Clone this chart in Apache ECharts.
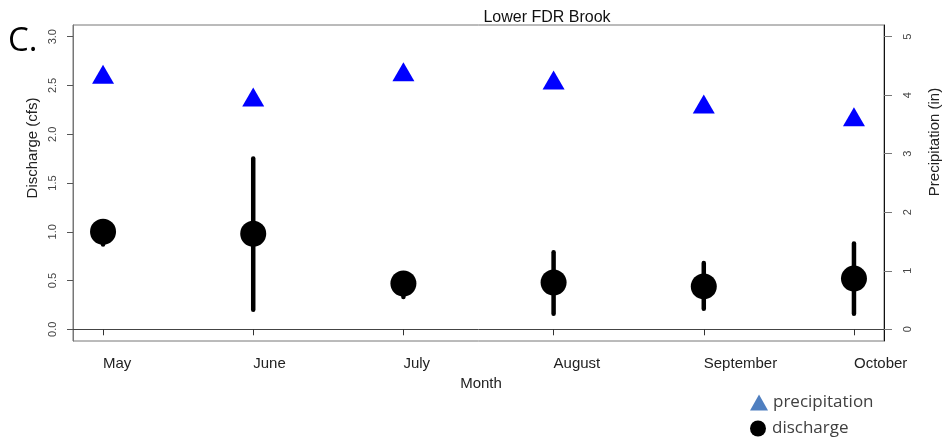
<!DOCTYPE html>
<html>
<head>
<meta charset="utf-8">
<script src="https://cdn.jsdelivr.net/npm/echarts@6/dist/echarts.min.js"></script>
<style>
html,body{margin:0;padding:0;background:#fff;}
#chart{width:946px;height:442px;}
</style>
</head>
<body>
<div id="chart"></div>
<script>
const months = ['May', 'June', 'July', 'August', 'September', 'October'];
const precipitation = [4.36, 3.97, 4.40, 4.26, 3.85, 3.63];
const discharge = [1.00, 0.98, 0.47, 0.48, 0.44, 0.52];
const dischargeLow = [0.87, 0.20, 0.33, 0.16, 0.21, 0.16];
const dischargeHigh = [1.03, 1.75, 0.50, 0.79, 0.68, 0.88];
const leftTicks = [0, 0.5, 1.0, 1.5, 2.0, 2.5, 3.0];
const rightTicks = [0, 1, 2, 3, 4, 5];
const monthTicks = months.map((m, i) => i + 1);

const chart = echarts.init(document.getElementById('chart'), null, {renderer: 'canvas'});
const AX = 'Liberation Sans, Arial, sans-serif';
const LEG = 'Open Sans, Noto Sans, sans-serif';

const legendBase = {
  orient: 'vertical', left: 745, itemWidth: 18, itemHeight: 16, itemGap: 9, selectedMode: false,
  textStyle: {fontSize: 17, fontFamily: LEG, color: '#404040'}
};

const option = {
  animation: false,
  backgroundColor: '#fff',
  grid: {left: 73, right: 62, top: 25, bottom: 101, show: true, borderColor: '#777', borderWidth: 1, containLabel: false},
  legend: [
    Object.assign({}, legendBase, {top: 389, data: [{name: 'precipitation', icon: 'triangle', itemStyle: {color: '#4f7fc0', opacity: 1}}]}),
    Object.assign({}, legendBase, {top: 415, data: [{name: 'discharge', icon: 'circle', itemStyle: {color: '#000', opacity: 1}}]})
  ],
  xAxis: {
    type: 'value', min: 0.8, max: 6.2,
    splitLine: {show: false},
    axisLine: {show: true, lineStyle: {color: '#444', width: 1}},
    axisTick: {show: true, length: 6, lineStyle: {color: '#333'}, customValues: monthTicks},
    axisLabel: {customValues: monthTicks, formatter: v => months[Math.round(v) - 1], align: 'left', margin: 15,
      fontSize: 15, fontFamily: AX, color: '#222'}
  },
  yAxis: [
    {
      type: 'value', position: 'left', min: -0.12, max: 3.12,
      splitLine: {show: false},
      axisLine: {show: true, lineStyle: {color: '#777'}},
      axisTick: {show: true, length: 6, lineStyle: {color: '#555'}, customValues: leftTicks},
      axisLabel: {customValues: leftTicks, formatter: v => v.toFixed(1), rotate: 90, margin: 15,
        fontSize: 11, fontFamily: AX, color: '#444'}
    },
    {
      type: 'value', position: 'right', min: -0.2, max: 5.2,
      splitLine: {show: false},
      axisLine: {show: true, lineStyle: {color: '#111'}},
      axisTick: {show: true, length: 8, lineStyle: {color: '#777'}, customValues: rightTicks},
      axisLabel: {customValues: rightTicks, formatter: v => String(v), rotate: 90, margin: 18,
        fontSize: 11, fontFamily: AX, color: '#444'}
    }
  ],
  graphic: [
    {type: 'text', left: 8, top: 25, style: {text: 'C.', fontSize: 33, fontFamily: LEG, fill: '#000'}},
    {type: 'text', x: 547, y: 18, style: {text: 'Lower FDR Brook', fontSize: 16, fontFamily: AX, fill: '#111', align: 'center', verticalAlign: 'middle'}},
    {type: 'text', x: 481, y: 384, style: {text: 'Month', fontSize: 15, fontFamily: AX, fill: '#222', align: 'center', verticalAlign: 'middle'}},
    {type: 'text', x: 33, y: 148, rotation: Math.PI / 2, style: {text: 'Discharge (cfs)', fontSize: 15, fontFamily: AX, fill: '#222', align: 'center', verticalAlign: 'middle'}},
    {type: 'text', x: 935, y: 142, rotation: Math.PI / 2, style: {text: 'Precipitation (in)', fontSize: 15, fontFamily: AX, fill: '#222', align: 'center', verticalAlign: 'middle'}}
  ],
  series: [
    {
      name: 'range', type: 'custom', xAxisIndex: 0, yAxisIndex: 0, z: 2,
      data: months.map((m, i) => [i + 1, dischargeLow[i], dischargeHigh[i]]),
      encode: {x: 0, y: [1, 2]},
      renderItem: (params, api) => {
        const p1 = api.coord([api.value(0), api.value(1)]);
        const p2 = api.coord([api.value(0), api.value(2)]);
        return {type: 'line', shape: {x1: p1[0], y1: p1[1], x2: p2[0], y2: p2[1]},
          style: {stroke: '#000', lineWidth: 4.5, lineCap: 'round'}};
      }
    },
    {
      name: 'discharge', type: 'scatter', yAxisIndex: 0, z: 3,
      symbol: 'circle', symbolSize: 26, itemStyle: {color: '#000', opacity: 1},
      data: months.map((m, i) => [i + 1, discharge[i]])
    },
    {
      name: 'precipitation', type: 'scatter', yAxisIndex: 1, z: 3,
      symbol: 'triangle', symbolSize: [22, 19], itemStyle: {color: '#0000ff', opacity: 1},
      data: months.map((m, i) => [i + 1, precipitation[i]])
    }
  ]
};
chart.setOption(option);
</script>
</body>
</html>
